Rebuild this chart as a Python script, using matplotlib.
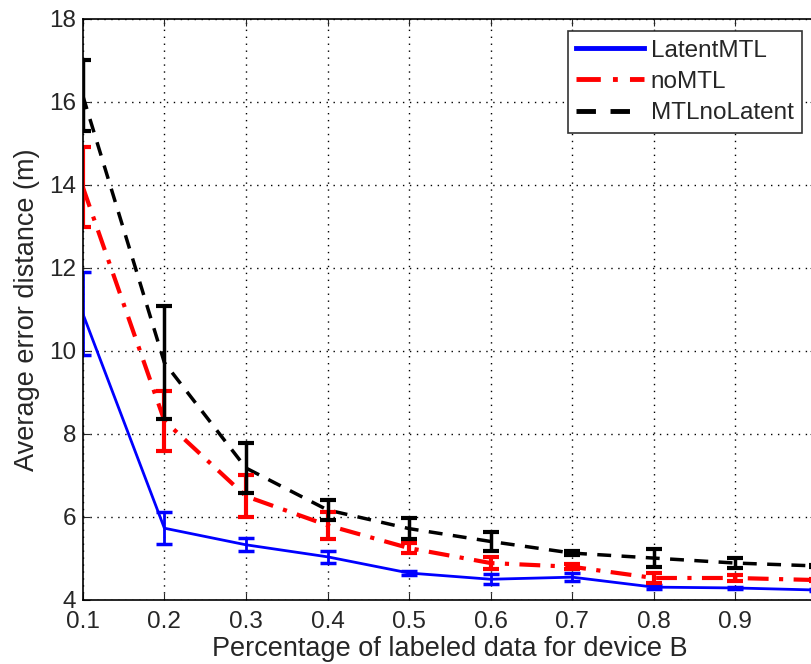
import matplotlib.pyplot as plt
import numpy as np

plt.rcParams['font.family'] = ['Liberation Sans', 'DejaVu Sans']

# data
x = [0.1, 0.2, 0.3, 0.4, 0.5, 0.6, 0.7, 0.8, 0.9, 1.0]

latent_mean = [10.9, 5.73, 5.33, 5.04, 4.65, 4.5, 4.55, 4.31, 4.29, 4.24]
latent_err = [1.0, 0.38, 0.16, 0.14, 0.04, 0.12, 0.1, 0.05, 0.03, 0.02]

nomtl_mean = [13.95, 8.32, 6.5, 5.8, 5.25, 4.89, 4.8, 4.53, 4.53, 4.48]
nomtl_err = [0.97, 0.72, 0.51, 0.33, 0.12, 0.15, 0.06, 0.13, 0.08, 0.03]

nolatent_mean = [16.15, 9.72, 7.18, 6.17, 5.72, 5.41, 5.13, 5.01, 4.89, 4.82]
nolatent_err = [0.85, 1.36, 0.6, 0.24, 0.26, 0.23, 0.05, 0.21, 0.12, 0.03]

fig = plt.figure(figsize=(8.12, 6.64), dpi=100)
ax = fig.add_axes([0.102, 0.0964, 0.904, 0.875])

# lines
ax.plot(x, latent_mean, color='blue', linestyle='-', lw=2, label='LatentMTL')
ax.plot(x, nomtl_mean, color='red', linestyle=(0, (5, 2.5, 1, 2.5)), lw=3, label='noMTL')
ax.plot(x, nolatent_mean, color='black', linestyle=(0, (4, 3)), lw=2.5, label='MTLnoLatent')

# error bars (solid)
ax.errorbar(x, latent_mean, yerr=latent_err, fmt='none', ecolor='blue', elinewidth=2, capsize=5.5, capthick=2.5)
ax.errorbar(x, nomtl_mean, yerr=nomtl_err, fmt='none', ecolor='red', elinewidth=3, capsize=5.5, capthick=3)
ax.errorbar(x, nolatent_mean, yerr=nolatent_err, fmt='none', ecolor='black', elinewidth=2.5, capsize=5.5, capthick=3)

ax.set_xlim(0.1, 1.0)
ax.set_ylim(4, 18)
ax.set_xticks([0.1, 0.2, 0.3, 0.4, 0.5, 0.6, 0.7, 0.8, 0.9])
ax.set_yticks([4, 6, 8, 10, 12, 14, 16, 18])
ax.tick_params(labelsize=17.5, direction='in', length=5, colors='#262626', top=True, right=True)
ax.tick_params(axis='x', pad=8)
ax.tick_params(axis='y', pad=5)
ax.grid(True, color='black', linestyle=(0, (1, 4)), lw=1)

ax.set_xlabel('Percentage of labeled data for device B', fontsize=19.5, color='#262626', labelpad=2)
ax.set_ylabel('Average error distance (m)', fontsize=19.5, color='#262626', labelpad=6)

leg = ax.legend(loc='upper right', bbox_to_anchor=(0.9796, 0.979), fontsize=17.5,
                fancybox=False, framealpha=1, edgecolor='#333333', handlelength=2.8,
                handletextpad=0.25, labelspacing=0.38, borderpad=0.35, borderaxespad=0)
leg.get_frame().set_linewidth(1.2)
for t in leg.get_texts():
    t.set_color('#262626')
for h, w in zip(leg.get_lines(), [3.5, 3.5, 3.5]):
    h.set_linewidth(w)

for s in ax.spines.values():
    s.set_linewidth(1.2)

plt.savefig('out.png', dpi=100)
